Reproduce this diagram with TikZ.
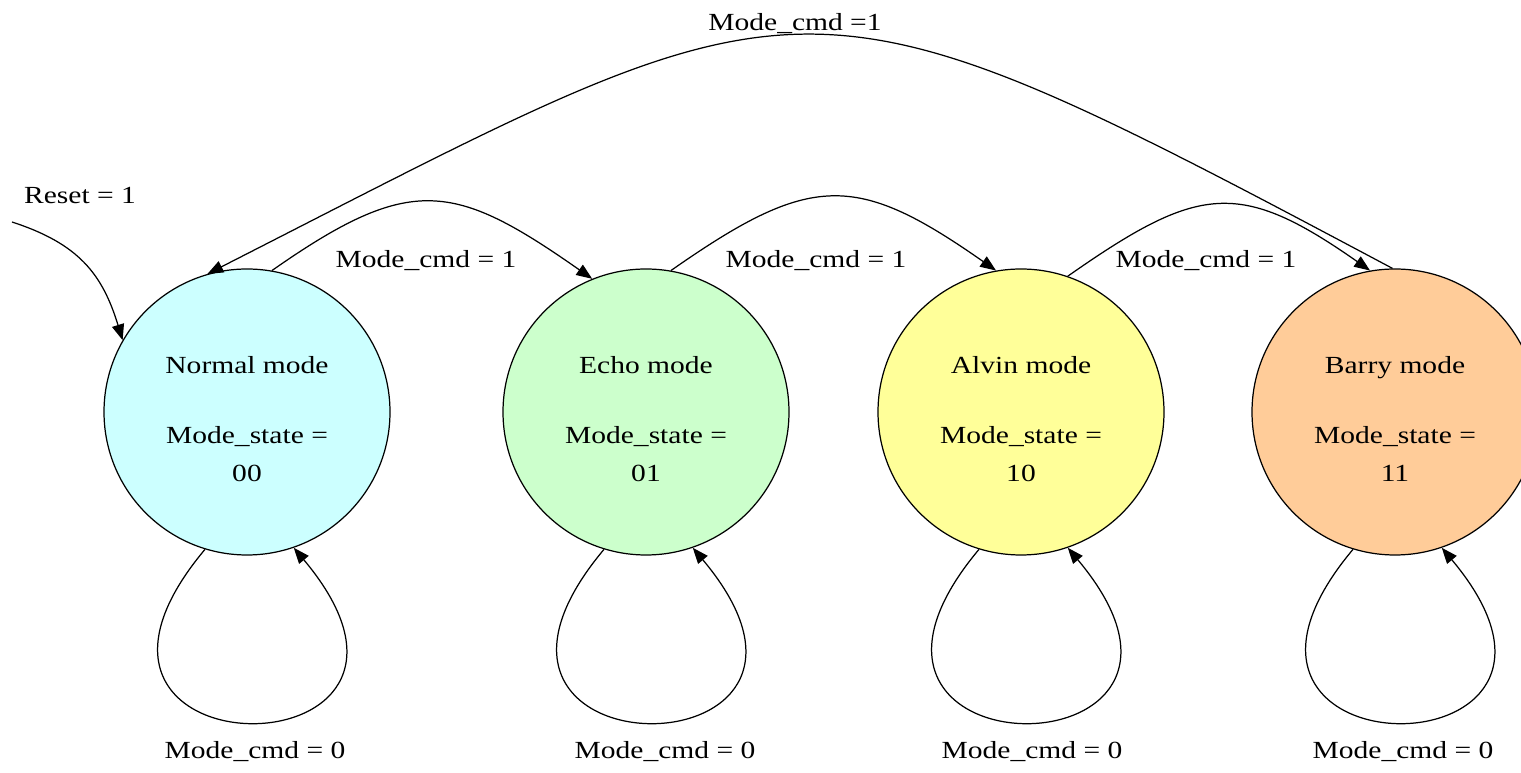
\documentclass[tikz,border=0pt]{standalone}
\usepackage{fontspec}
\setmainfont{Liberation Serif}[FakeStretch=1.2]
\usepackage{tikz}
\usetikzlibrary{arrows.meta}

\definecolor{normalfill}{RGB}{204,255,255}
\definecolor{echofill}{RGB}{204,255,204}
\definecolor{alvinfill}{RGB}{255,255,153}
\definecolor{barryfill}{RGB}{255,204,153}

% first line of a state gets a tall strut so the text sits a bit low
\newcommand{\modetext}[2]{\rule{0pt}{17.5pt}#1\\[18.2pt]Mode\_state =\\#2}

\begin{document}
\begin{tikzpicture}[line width=0.7pt, >={Triangle[length=9pt,width=7pt]},
	state/.style={circle, draw, minimum size=5.72cm, inner sep=0pt, align=center, font={\fontsize{14}{21.6}\selectfont}},
	lbl/.style={font={\fontsize{14}{21.6}\selectfont}},
	nextmode/.style={->, out=35, in=145, looseness=1.35},
	selfloop/.style={->, out=-130, in=-50, looseness=8.7}]

\useasboundingbox (0,0) rectangle (30.42,15.44);
\clip (0,0) rectangle (30.42,15.44);

% the four modes
\node[state, fill=normalfill] (N) at (4.94,7.2) {\modetext{Normal mode}{00}};
\node[state, fill=echofill] (E) at (12.92,7.2) {\modetext{Echo mode}{01}};
\node[state, fill=alvinfill] (A) at (20.42,7.2) {\modetext{Alvin mode}{10}};
\node[state, fill=barryfill] (B) at (27.90,7.2) {\modetext{Barry mode}{11}};

% reset entry
\coordinate (rst) at (0.24,11.0);
\node[lbl] (Lrst) at (1.60,11.52) {Reset = 1};
\draw[->] (rst) to[out=-18, in=107, looseness=1.1] (N.150);

% Mode_cmd = 1 : go to the next mode
\draw[nextmode] (N.80) to (E.112);
\draw[nextmode] (E.80) to (A.100);
\draw[nextmode] (A.71) to (B.100);
\draw[->] (B.91) to[out=152, in=27, looseness=1.47] (N.106);

\node[lbl] (L1) at (8.52,10.22) {Mode\_cmd = 1};
\node[lbl] (L2) at (16.32,10.22) {Mode\_cmd = 1};
\node[lbl] (L3) at (24.12,10.22) {Mode\_cmd = 1};
\node[lbl] (L4) at (15.90,14.96) {Mode\_cmd =1};

% Mode_cmd = 0 : stay
\draw[selfloop] (N.-107) to (N.-71);
\draw[selfloop] (E.-107) to (E.-71);
\draw[selfloop] (A.-107) to (A.-71);
\draw[selfloop] (B.-107) to (B.-71);

\node[lbl] (S1) at (5.10,0.40) {Mode\_cmd = 0};
\node[lbl] (S2) at (13.30,0.40) {Mode\_cmd = 0};
\node[lbl] (S3) at (20.64,0.40) {Mode\_cmd = 0};
\node[lbl] (S4) at (28.06,0.40) {Mode\_cmd = 0};

\end{tikzpicture}
\end{document}
